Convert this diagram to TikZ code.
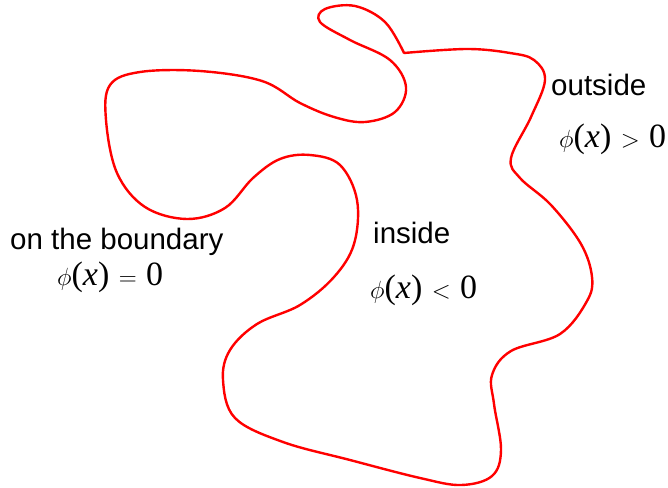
\documentclass[tikz,border=0pt]{standalone}
\usepackage{fontspec}
\setmainfont{Liberation Sans}
\newfontfamily\tmsfont{Liberation Serif}
\newcommand{\myeq}[1]{{\tmsfont$\phi$(\textit{x})\;$#1$\;0}}
\tikzset{
  boundary/.style={draw=red, line width=2.4pt, line join=round, line cap=round},
  lbl/.style={anchor=base west, inner sep=0pt, font=\fontsize{29.5}{34}\selectfont},
  eq/.style={anchor=base west, inner sep=0pt, font=\fontsize{34}{38}\selectfont}
}
\begin{document}
\begin{tikzpicture}[x=1pt,y=-1pt]
\useasboundingbox (0,0) rectangle (668,487);
\draw[boundary] plot[smooth, tension=0.6] coordinates {
 (404,53) (385,22) (355,6) (325,9) (320,22) (350,40) (390,60) (406,87) (395,112) (365,122) (334,117)
 (300,103) (262,81) (200,71) (140,72) (110,85) (106,120) (117,173) (145,207) (187,219) (225,208) (253,178) (280,159) (310,155)
 (340,165) (357,200) (354,244) (334,277) (300,305) (257,324) (230,350) (223,380) (235,418) (283,442)
 (350,460) (420,478) (461,485) (492,476) (501,450) (494,404) (492,375) (511,351) (560,334) (587,301) (592,277) (581,244)
 (551,205) (520,178) (511,158) (531,117) (545,80) (534,60) (510,53) (467,49) (404,53)};
\node[lbl] (outside) at (551,95) {outside};
\node[eq] (outeq) at (559,147) {\myeq{>}};
\node[lbl] (inside) at (373,243) {inside};
\node[eq] (ineq) at (370,298) {\myeq{<}};
\node[lbl] (bnd) at (10,249) {on the boundary};
\node[eq] (bndeq) at (57,285) {\myeq{=}};
\end{tikzpicture}
\end{document}
